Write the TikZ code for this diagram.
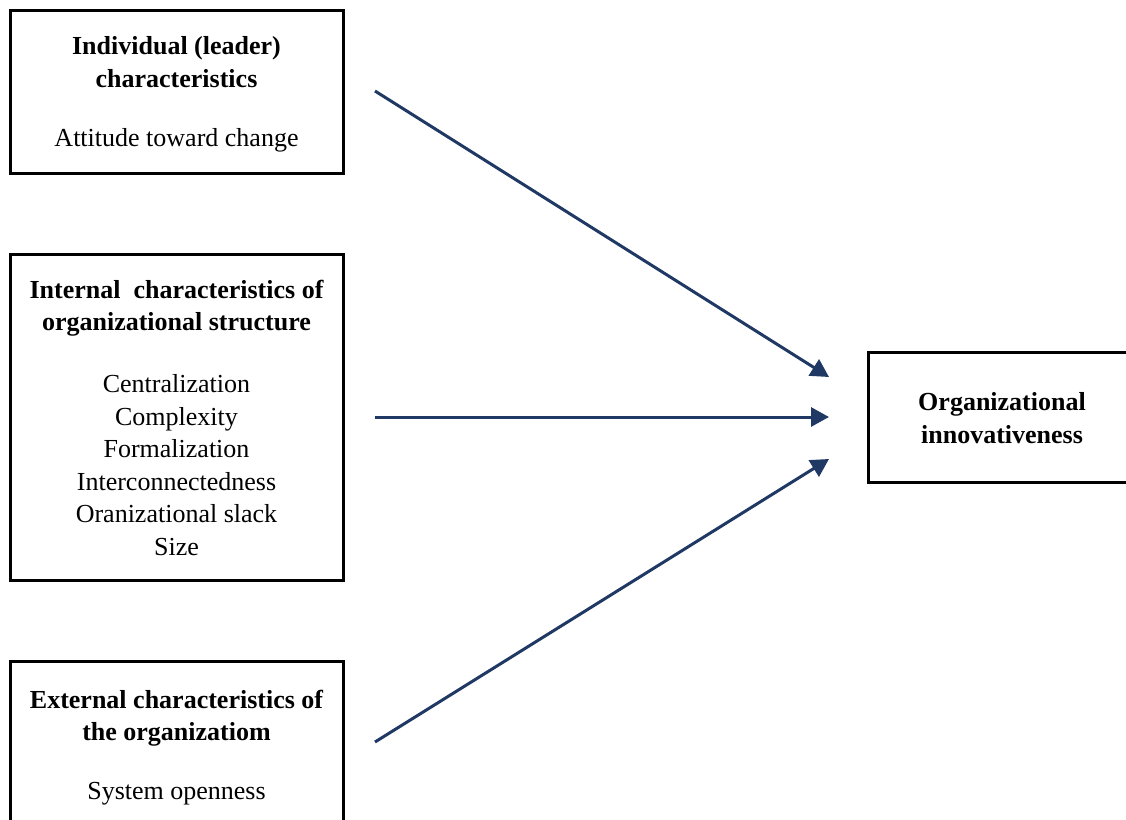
\documentclass[tikz,border=0pt]{standalone}
\usepackage{fontspec}
\setmainfont{Liberation Serif}
\usetikzlibrary{arrows.meta}
\definecolor{navy}{HTML}{1F3864}
\tikzset{
  box/.style={draw=black, line width=3pt, rectangle, inner sep=0pt, fill=white},
  label/.style={align=center, inner sep=0pt, font=\fontsize{26}{32.5}\selectfont},
  head/.style={label, font=\fontsize{26}{32.5}\selectfont\bfseries},
  link/.style={draw=navy, line width=3pt, -{Triangle[length=18pt,width=19pt]}}
}
\begin{document}
\begin{tikzpicture}[x=1pt,y=-1pt]
  \useasboundingbox (0,0) rectangle (1126,819);
  \clip (0,0) rectangle (1126,819);

  % left-hand boxes
  \node[box, minimum width=333pt, minimum height=163pt] (b1) at (176.5,91.5) {};
  \node[box, minimum width=333pt, minimum height=326pt] (b2) at (176.5,417) {};
  \node[box, minimum width=333pt, minimum height=180pt] (b3) at (176.5,751) {};
  % outcome box
  \node[box, minimum width=272pt, minimum height=130pt] (b4) at (1004,417) {};

  % texts
  \node[head] (h1) at (176.5,62) {Individual (leader)\\characteristics};
  \node[label] (l1) at (176.5,140) {Attitude toward change};

  \node[head] (h2) at (176.5,308) {Internal\ \ characteristics of\\organizational structure};
  \node[label] (l2) at (176.5,465) {Centralization\\Complexity\\Formalization\\Interconnectedness\\Oranizational slack\\Size};

  \node[head] (h3) at (176.5,718) {External characteristics of\\the organizatiom};
  \node[label] (l3) at (176.5,794) {System openness};

  \node[head] (h4) at (1002,418) {Organizational\\innovativeness};

  % connector ends
  \coordinate (s1) at (375,91);
  \coordinate (s2) at (375,417);
  \coordinate (s3) at (375,742);
  \coordinate (e1) at (829,377);
  \coordinate (e2) at (829,417);
  \coordinate (e3) at (829,459);

  \draw[link] (s1) -- (e1);
  \draw[link] (s2) -- (e2);
  \draw[link] (s3) -- (e3);
\end{tikzpicture}
\end{document}
